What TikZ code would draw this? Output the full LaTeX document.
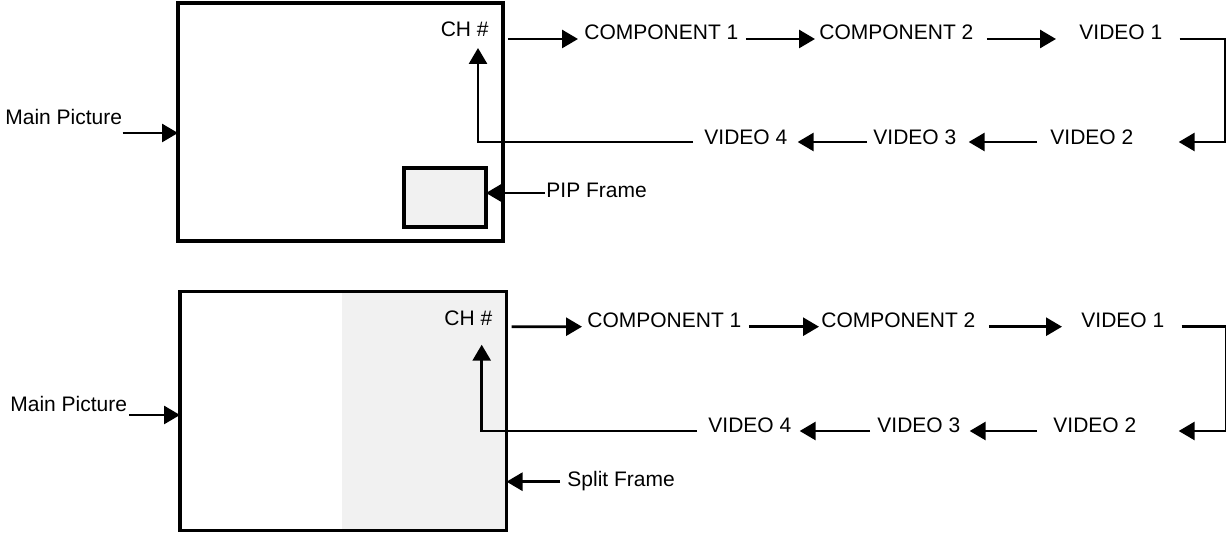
\documentclass[tikz,border=0pt]{standalone}
\usepackage{fontspec}
\setmainfont{Liberation Sans}
\usetikzlibrary{arrows.meta}
\definecolor{framegray}{HTML}{F1F1F1}

\begin{document}
\begin{tikzpicture}[
    x=0.5pt, y=-0.5pt,
    every node/.style={font=\fontsize{10.5}{12}\selectfont},
    screen/.style={rectangle, draw, line width=1.7pt, inner sep=0pt, outer sep=0pt},
    inset/.style={rectangle, draw, fill=framegray, line width=1.7pt, inner sep=0pt, outer sep=0pt},
    lbl/.style={inner sep=0pt, anchor=base west},
    arrow/.style={-{Triangle[length=8pt, width=9pt]}, line width=1.4pt},
]
\useasboundingbox (0,0) rectangle (1226,533);

% PIP screen
\node[screen, minimum width=162.5pt, minimum height=119pt] (tvtop) at (340.5,122) {};
\node[inset, minimum width=41pt, minimum height=29.5pt] (piptop) at (445,197.5) {};
\node[lbl, anchor=base east] (chtop) at (489,37) {CH \#};
\node[lbl] (comp1top) at (584,40) {COMPONENT 1};
\node[lbl] (comp2top) at (819,40) {COMPONENT 2};
\node[lbl] (vid1top) at (1079,40) {VIDEO 1};
\node[lbl] (vid2top) at (1050,145) {VIDEO 2};
\node[lbl] (vid3top) at (873,145) {VIDEO 3};
\node[lbl] (vid4top) at (704,145) {VIDEO 4};
\node[lbl] (maintop) at (5,125) {Main Picture};
\node[lbl] (piplbl) at (546,198) {PIP Frame};

% Split screen
\node[fill=framegray, minimum width=82.4pt, minimum height=119.5pt, inner sep=0pt] (halfbot) at (424.1,411) {};
\node[screen, minimum width=163.25pt, minimum height=119.5pt] (tvbot) at (343.25,411) {};
\node[lbl, anchor=base east] (chbot) at (492.7,325.7) {CH \#};
\node[lbl] (comp1bot) at (587,328) {COMPONENT 1};
\node[lbl] (comp2bot) at (821,328) {COMPONENT 2};
\node[lbl] (vid1bot) at (1081,328) {VIDEO 1};
\node[lbl] (vid2bot) at (1053,433) {VIDEO 2};
\node[lbl] (vid3bot) at (877,433) {VIDEO 3};
\node[lbl] (vid4bot) at (708,433) {VIDEO 4};
\node[lbl] (mainbot) at (10,411.7) {Main Picture};
\node[lbl] (splitlbl) at (567,486.7) {Split Frame};

% Arrows (PIP)
\draw[arrow] ([shift={(19,2)}]chtop.base east) -- ([shift={(-6,-1)}]comp1top.base west);
\draw[arrow] ([shift={(7,-1)}]comp1top.base east) -- ([shift={(-4,-1)}]comp2top.base west);
\draw[arrow] ([shift={(13,-1)}]comp2top.base east) -- ([shift={(-23,-1)}]vid1top.base west);
\draw[arrow] ([shift={(17,-1)}]vid1top.base east) -- ++(46,0) |- ([shift={(45,-3)}]vid2top.base east);
\draw[arrow] ([shift={(-13,-3)}]vid2top.base west) -- ([shift={(12,-3)}]vid3top.base east);
\draw[arrow] ([shift={(-6,-3)}]vid3top.base west) -- ([shift={(10,-3)}]vid4top.base east);
\draw[arrow] ([shift={(-11,-3)}]vid4top.base west) -| ([shift={(-11,11)}]chtop.base east);
\draw[arrow] ([shift={(0,8)}]maintop.base east) coordinate (mt) -- (mt -| tvtop.west);
\draw[arrow] ([shift={(-1,-5)}]piplbl.base west) coordinate (pt) -- (pt -| piptop.east);

% Arrows (split)
\draw[arrow] ([shift={(19,1)}]chbot.base east) -- ([shift={(-5,-1.3)}]comp1bot.base west);
\draw[arrow] ([shift={(7,-1.3)}]comp1bot.base east) -- ([shift={(-2,-1.3)}]comp2bot.base west);
\draw[arrow] ([shift={(13,-1.3)}]comp2bot.base east) -- ([shift={(-19,-1.3)}]vid1bot.base west);
\draw[arrow] ([shift={(17,-1.3)}]vid1bot.base east) -- ++(45,0) |- ([shift={(42,-2)}]vid2bot.base east);
\draw[arrow] ([shift={(-16,-2)}]vid2bot.base west) -- ([shift={(9,-2)}]vid3bot.base east);
\draw[arrow] ([shift={(-7,-2)}]vid3bot.base west) -- ([shift={(8,-2)}]vid4bot.base east);
\draw[arrow] ([shift={(-11,-2)}]vid4bot.base west) -| ([shift={(-11,19)}]chbot.base east);
\draw[arrow] ([shift={(1.7,3.3)}]mainbot.base east) coordinate (mb) -- (mb -| tvbot.west);
\draw[arrow] ([shift={(-7,-5)}]splitlbl.base west) coordinate (sb) -- (sb -| tvbot.east);

\end{tikzpicture}
\end{document}
